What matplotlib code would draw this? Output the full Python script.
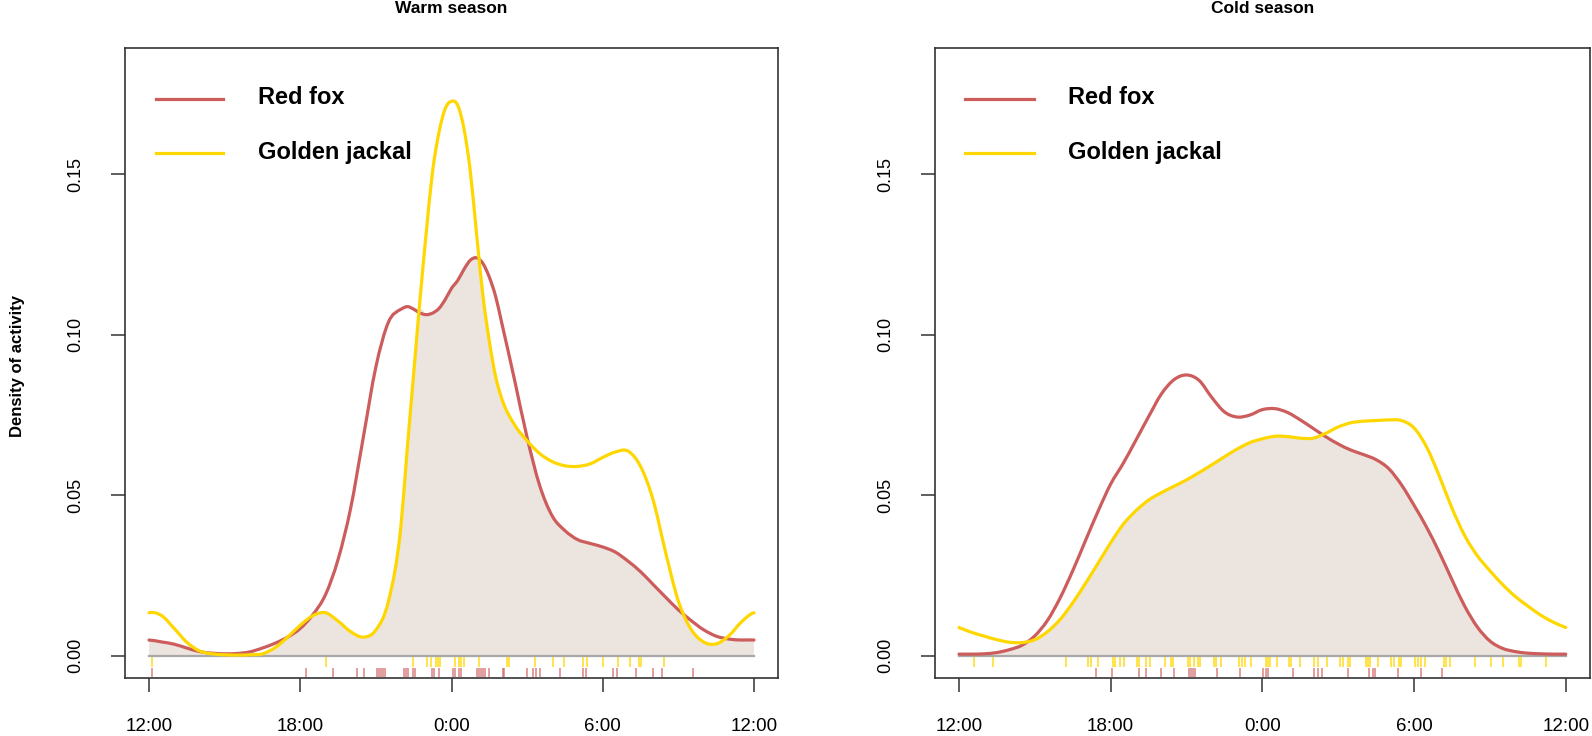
import numpy as np
import matplotlib
matplotlib.use('Agg')
import matplotlib.pyplot as plt
from matplotlib.path import Path
from matplotlib.patches import PathPatch

plt.rcParams['font.family'] = ['Liberation Sans', 'DejaVu Sans']

# hours since 12:00 (0 = 12:00, 12 = 0:00, 24 = 12:00)
warm_hours = [0, 0.5, 1, 1.5, 2, 2.5, 3, 3.5, 4, 4.5, 5, 5.5, 6, 6.5, 7, 7.5, 8, 8.5, 9, 9.5,
              10, 10.25, 10.5, 10.75, 11, 11.25, 11.5, 11.75, 12, 12.25, 12.5, 12.75, 13,
              13.25, 13.5, 13.75, 14,
              14.5, 15, 15.5, 16, 16.5, 17, 17.5, 18, 18.5, 19, 19.5, 20, 20.5, 21, 21.5,
              22, 22.5, 23, 23.5, 24]
warm_fox = [0.0049, 0.0043, 0.0036, 0.0024, 0.0013, 0.0008, 0.0006, 0.0007, 0.0012, 0.0024,
            0.0039, 0.0058, 0.0085, 0.0128, 0.019, 0.030, 0.046, 0.068, 0.090, 0.104,
            0.108, 0.1088, 0.1080, 0.1068, 0.1063, 0.1068, 0.1082, 0.111, 0.1145, 0.117,
            0.1205, 0.1233, 0.1240, 0.1222, 0.118, 0.112, 0.1035,
            0.086, 0.068, 0.053, 0.0435, 0.039, 0.0362, 0.0350, 0.0339, 0.0323, 0.0295, 0.0262,
            0.0222, 0.0182, 0.0143, 0.0110, 0.0081, 0.0061, 0.0052, 0.0049, 0.0049]
warm_jackal = [0.0134, 0.0125, 0.0085, 0.0042, 0.0015, 0.0006, 0.0003, 0.0002, 0.0003, 0.0006,
               0.0025, 0.0058, 0.0095, 0.0125, 0.0134, 0.0108, 0.0075, 0.0058, 0.0080, 0.017,
               0.041, 0.065, 0.088, 0.111, 0.132, 0.151, 0.163, 0.1705, 0.1728, 0.1715,
               0.164, 0.1507, 0.131, 0.112, 0.098, 0.087, 0.080,
               0.072, 0.067, 0.063, 0.0605, 0.0592, 0.0590, 0.0598, 0.0618, 0.0635, 0.0638,
               0.059, 0.0485, 0.032, 0.0170, 0.0083, 0.0043, 0.0037, 0.0062, 0.0105, 0.0134]

cold_hours = [0, 0.5, 1, 1.5, 2, 2.5, 3, 3.5, 4, 4.5, 5, 5.5, 6, 6.5, 7, 7.5, 8, 8.5, 9, 9.5,
              10, 10.5, 11, 11.5, 12, 12.5, 13, 13.5, 14, 14.5, 15, 15.5, 16, 16.5, 17, 17.5,
              18, 18.5, 19, 19.5, 20, 20.5, 21, 21.5, 22, 22.5, 23, 23.5, 24]
cold_fox = [0.0005, 0.0005, 0.0006, 0.0010, 0.0019, 0.0033, 0.0062, 0.0110, 0.0180, 0.0265,
            0.0358, 0.0450, 0.0535, 0.0600, 0.0672, 0.0745, 0.0815, 0.0860, 0.0875, 0.0858,
            0.0805, 0.0760, 0.0744, 0.0750, 0.0767, 0.0770, 0.0758, 0.0735, 0.0709, 0.0683,
            0.0660, 0.0641, 0.0627, 0.0611, 0.0583, 0.0533, 0.0469, 0.0400, 0.0322, 0.0237,
            0.0155, 0.0090, 0.0046, 0.0023, 0.0013, 0.0008, 0.0006, 0.0005, 0.0005]
cold_jackal = [0.0088, 0.0073, 0.0061, 0.0050, 0.0042, 0.0041, 0.0050, 0.0075, 0.0113, 0.0165,
               0.0225, 0.0288, 0.0352, 0.0410, 0.0452, 0.0485, 0.0508, 0.0528, 0.0548, 0.0571,
               0.0595, 0.0620, 0.0644, 0.0664, 0.0676, 0.0684, 0.0683, 0.0678, 0.0678, 0.0693,
               0.0713, 0.0726, 0.0731, 0.0733, 0.0735, 0.0733, 0.0710, 0.0650, 0.0560, 0.0460,
               0.0375, 0.0312, 0.0265, 0.0222, 0.0185, 0.0155, 0.0127, 0.0105, 0.0088]

# observation times (rug), hours since 12:00
warm_fox_obs = [0.13, 6.22, 7.31, 8.27, 8.53, 9.05, 9.13, 9.21, 9.29, 9.37, 10.1, 10.18, 10.26,
                10.47, 10.54, 11.23, 11.31, 11.51, 12.04, 12.15, 12.28, 12.36, 13.01, 13.09,
                13.17, 13.25, 13.33, 13.49, 14.03, 14.09, 15.0, 15.22, 15.35, 15.52, 16.32,
                17.21, 17.33, 18.42, 18.55, 19.31, 20.01, 20.36, 21.58]
warm_jackal_obs = [0.13, 7.03, 10.47, 11.02, 11.18, 11.39, 11.47, 11.56, 12.12, 12.28, 12.38,
                   12.48, 13.09, 14.19, 14.3, 15.32, 16.03, 16.45, 17.21, 17.37, 18.02, 18.59,
                   19.1, 19.44, 19.51, 20.44]
cold_fox_obs = [5.41, 6.04, 7.13, 7.38, 8.01, 8.51, 9.08, 9.18, 9.25, 9.35, 10.21, 11.13, 12.02,
                12.13, 12.22, 13.22, 14.05, 14.22, 14.35, 15.39, 16.22, 16.39, 16.47, 17.36,
                18.26, 19.09]
cold_jackal_obs = [0.58, 1.34, 4.24, 5.12, 5.21, 5.51, 6.09, 6.17, 6.38, 6.54, 7.04, 7.13, 7.41,
                   7.54, 8.13, 8.38, 8.46, 9.05, 9.13, 9.3, 9.46, 9.55, 10.08, 10.18, 10.38,
                   11.08, 11.18, 11.3, 11.55, 12.13, 12.22, 12.3, 12.58, 13.05, 13.13, 13.47,
                   14.05, 14.19, 14.55, 15.09, 15.19, 15.39, 15.47, 16.09, 16.19, 16.25, 16.56,
                   17.09, 17.19, 17.39, 17.47, 18.02, 18.14, 18.26, 18.42, 19.19, 19.26, 19.43,
                   20.43, 21.06, 21.53, 22.15, 22.23, 23.23]

tick_pos = [0, 6, 12, 18, 24]
tick_labels = ['12:00', '18:00', '0:00', '6:00', '12:00']
labels = ['Red fox', 'Golden jackal']

FOX = '#CD5C5C'
JACKAL = '#FFD700'
FILL = '#ECE4DE'


def smooth_path(x, y):
    # cubic bezier through the points (circular data, so end slopes wrap round)
    x = np.asarray(x, float)
    y = np.asarray(y, float)
    h = np.diff(x)
    s = np.diff(y) / h
    d = np.empty_like(y)
    d[1:-1] = (s[:-1] * h[1:] + s[1:] * h[:-1]) / (h[:-1] + h[1:])
    d[0] = d[-1] = (s[0] * h[-1] + s[-1] * h[0]) / (h[0] + h[-1])
    verts = [(x[0], y[0])]
    codes = [Path.MOVETO]
    for i in range(len(h)):
        verts += [(x[i] + h[i] / 3, y[i] + d[i] * h[i] / 3),
                  (x[i + 1] - h[i] / 3, y[i + 1] - d[i + 1] * h[i] / 3),
                  (x[i + 1], y[i + 1])]
        codes += [Path.CURVE4] * 3
    return verts, codes


W, H = 1592, 736
fig = plt.figure(figsize=(W / 100, H / 100), dpi=100)
top, bottom = 47.7, 678.2
ax1 = fig.add_axes([124.8 / W, 1 - bottom / H, (778.2 - 124.8) / W, (bottom - top) / H])
ax2 = fig.add_axes([934.7 / W, 1 - bottom / H, (1590 - 934.7) / W, (bottom - top) / H])


def panel(ax, hours, fox, jackal, fox_obs, jackal_obs, title):
    low = np.minimum(fox, jackal)
    v, c = smooth_path(hours, low)
    v = v + [(hours[-1], 0), (hours[0], 0), (hours[0], low[0])]
    c = c + [Path.LINETO, Path.LINETO, Path.CLOSEPOLY]
    ax.add_patch(PathPatch(Path(v, c), facecolor=FILL, edgecolor='none', zorder=1))
    ax.plot([hours[0], hours[-1]], [0, 0], color='#A8A8A8', lw=1.6, zorder=2)
    ax.vlines(jackal_obs, -0.0034, -0.0004, color=JACKAL, lw=1.4, alpha=0.7, zorder=2)
    ax.vlines(fox_obs, -0.0067, -0.0037, color=FOX, lw=1.4, alpha=0.6, zorder=2)
    for vals, col, z in [(fox, FOX, 3), (jackal, JACKAL, 4)]:
        v, c = smooth_path(hours, vals)
        ax.add_patch(PathPatch(Path(v, c), facecolor='none', edgecolor=col, lw=2.3,
                               capstyle='round', joinstyle='round', zorder=z))

    ax.set_xlim(-0.96, 24.96)
    ax.set_ylim(-0.0070, 0.1895)
    ax.set_xticks(tick_pos)
    ax.set_xticklabels(tick_labels, fontsize=13.5)
    ax.set_yticks([0, 0.05, 0.10, 0.15])
    ax.set_yticklabels(['0.00', '0.05', '0.10', '0.15'], rotation=90, va='center', fontsize=13)
    ax.tick_params(length=10, width=1.1, pad=19, color='#333333')
    for s in ax.spines.values():
        s.set_linewidth(1.2)
        s.set_color('#333333')
    ax.set_title(title, fontsize=12.5, fontweight='bold', pad=25)

    # legend
    for (y_line, y_text, col, lab) in [(0.919, 0.911, FOX, labels[0]),
                                       (0.8325, 0.823, JACKAL, labels[1])]:
        ax.plot([0.047, 0.151], [y_line, y_line], color=col, lw=2.3, transform=ax.transAxes)
        ax.text(0.204, y_text, lab, transform=ax.transAxes, fontsize=17, fontweight='bold',
                va='baseline', ha='left')


panel(ax1, warm_hours, warm_fox, warm_jackal, warm_fox_obs, warm_jackal_obs, 'Warm season')
panel(ax2, cold_hours, cold_fox, cold_jackal, cold_fox_obs, cold_jackal_obs, 'Cold season')

fig.text(18 / W, 1 - 366 / H, 'Density of activity', rotation=90, ha='center', va='center',
         fontsize=12, fontweight='bold')

fig.savefig('out.png', dpi=100)
